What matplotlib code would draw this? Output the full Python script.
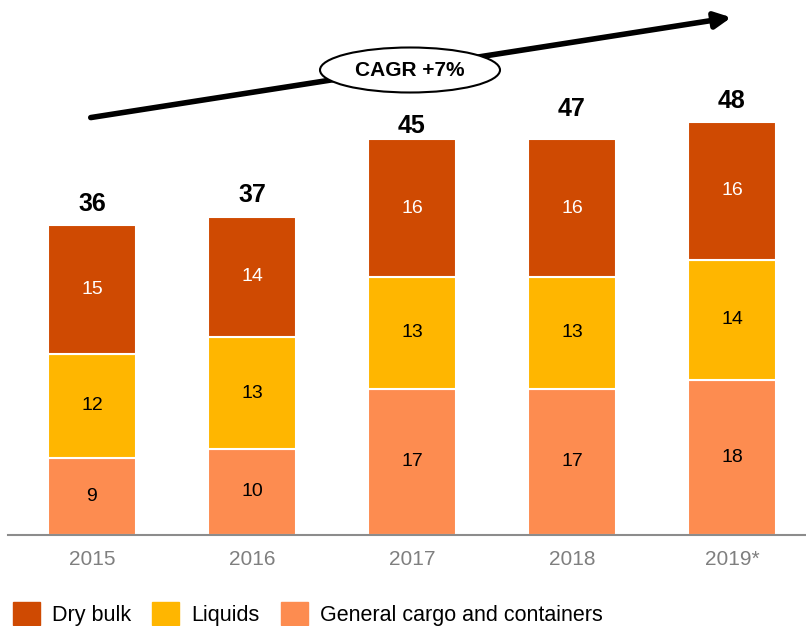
import matplotlib
matplotlib.use("Agg")
import matplotlib.pyplot as plt
from matplotlib.patches import Ellipse, FancyArrowPatch, Patch
import numpy as np

# ── Data ──────────────────────────────────────────────────────────────────────
years    = ["2015", "2016", "2017", "2018", "2019*"]
general  = [9, 10, 17, 17, 18]
liquids  = [12, 13, 13, 13, 14]
dry_bulk = [15, 14, 16, 16, 16]
totals   = [36, 37, 45, 47, 48]

C_DRY = "#CF4A02"
C_LIQ = "#FFB600"
C_GEN = "#FD8C50"

plt.rcParams["font.family"] = ["Liberation Sans", "DejaVu Sans"]

W, H = 806, 626
fig = plt.figure(figsize=(W / 100, H / 100), dpi=100)
ax = fig.add_axes([8 / W, 1 - 535 / H, 1 - 8 / W, 535 / H])

x = np.arange(len(years))
bw = 0.55
kw = dict(width=bw, edgecolor="white", linewidth=1.5)
ax.bar(x, general, color=C_GEN, **kw)
ax.bar(x, liquids, bottom=general, color=C_LIQ, **kw)
bot2 = np.array(general) + np.array(liquids)
ax.bar(x, dry_bulk, bottom=bot2, color=C_DRY, **kw)

for i in range(len(years)):
    ax.text(x[i], general[i] / 2, str(general[i]), ha="center", va="center",
            fontsize=14, color="black")
    ax.text(x[i], general[i] + liquids[i] / 2, str(liquids[i]), ha="center",
            va="center", fontsize=14, color="black")
    ax.text(x[i], bot2[i] + dry_bulk[i] / 2, str(dry_bulk[i]), ha="center",
            va="center", fontsize=14, color="white")
    ax.text(x[i], totals[i] + 1.1, str(totals[i]), ha="center", va="bottom",
            fontsize=18, fontweight="bold", color="black")

ax.set_xlim(-0.525, 4.4625)
ax.set_ylim(0, 62.2)
for s in ["left", "right", "top"]:
    ax.spines[s].set_visible(False)
ax.spines["bottom"].set_color("#8c8c8c")
ax.spines["bottom"].set_linewidth(1.5)
ax.set_yticks([])
ax.set_xticks(x)
ax.set_xticklabels(years, fontsize=15, color="#7f7f7f")
ax.tick_params(axis="x", length=0, pad=11)

# CAGR arrow + bubble
arrow = FancyArrowPatch((88 / W, 1 - 118 / H), (734 / W, 1 - 17 / H),
                        transform=fig.transFigure, arrowstyle="-|>",
                        mutation_scale=24, linewidth=4, color="black")
fig.patches.append(arrow)
ell = Ellipse((410 / W, 1 - 70 / H), 180 / W, 45 / H, transform=fig.transFigure,
              facecolor="white", edgecolor="black", linewidth=1.5, zorder=5)
fig.patches.append(ell)
fig.text(410 / W, 1 - 70 / H, "CAGR +7%", ha="center", va="center",
         fontsize=15, fontweight="bold", zorder=6)

handles = [Patch(color=C_DRY, label="Dry bulk"),
           Patch(color=C_LIQ, label="Liquids"),
           Patch(color=C_GEN, label="General cargo and containers")]
fig.legend(handles=handles, loc="lower left", bbox_to_anchor=(13 / W, 0.0),
           ncol=3, frameon=False, fontsize=15.5, handlelength=1.25,
           handleheight=1.25, handletextpad=0.55, columnspacing=1.0,
           borderaxespad=0.0, borderpad=0.0)

fig.savefig("out.png", dpi=100)
